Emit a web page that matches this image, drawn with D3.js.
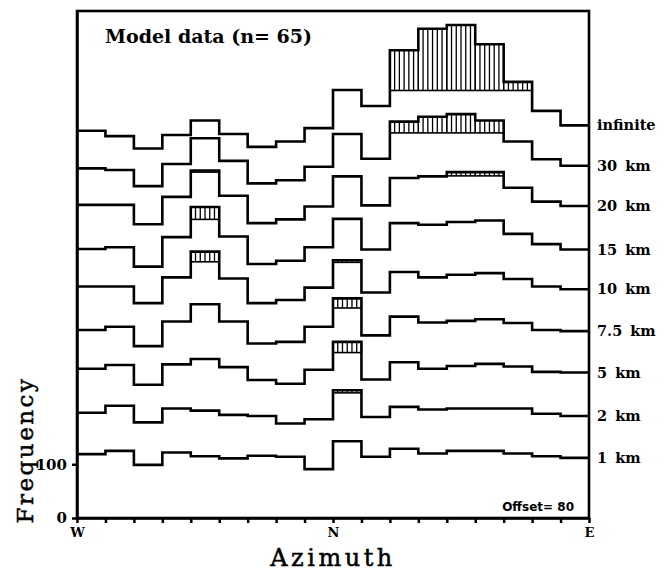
<!DOCTYPE html>
<html>
<head>
<meta charset="utf-8">
<style type="text/css">
body { margin: 0; background: #fff; }
.step { stroke: #000; stroke-width: 2.6; fill: none; }
.hatch { stroke: #000; stroke-width: 1.3; }
.cap { stroke: #000; stroke-width: 1.6; }
.frame { fill: none; stroke: #000; stroke-width: 2.6; }
.axis path, .axis line { stroke: #000; stroke-width: 2.5; }
.axis text { font-family: "DejaVu Serif", serif; font-weight: bold; fill: #000; }
.lbl { font-family: "DejaVu Serif", serif; font-weight: bold; font-size: 14.5px; word-spacing: 3px; }
.title { font-family: "DejaVu Serif", serif; stroke: #000; stroke-width: 0.5; }
</style>
<script src="https://d3js.org/d3.v7.min.js"></script>
</head>
<body>
<script type="text/javascript">
var width  = 669;
var height = 572;

// azimuth bins, 10 degrees each, W (-90) .. N (0) .. E (90)
var binStarts = d3.range(-90, 90, 10);
var tickVals  = d3.range(-90, 91, 10);
var tickNames = {"-90": "W", "0": "N", "90": "E"};
var offset = 80;

// frequency per bin for each depth
var f1km   = [119, 125, 99, 122, 115, 111, 116, 114, 91, 143, 114, 129, 120, 125, 125, 120, 115, 112];
var f2km   = [116, 129, 98, 124, 120, 112, 110, 96, 104, 158, 108, 127, 122, 124, 124, 124, 114, 110];
var f5km   = [118, 125, 88, 126, 136, 121, 97, 90, 116, 168, 98, 130, 118, 123, 127, 122, 112, 111];
var f7_5km = [110, 116, 80, 126, 158, 126, 85, 88, 116, 169, 100, 135, 124, 127, 130, 123, 110, 108];
var f10km  = [111, 111, 80, 128, 176, 126, 80, 86, 109, 160, 100, 138, 128, 133, 136, 125, 111, 106];
var f15km  = [101, 104, 68, 123, 179, 124, 73, 79, 104, 157, 100, 149, 146, 151, 154, 129, 110, 100];
var f20km  = [103, 103, 67, 118, 167, 120, 69, 76, 100, 156, 102, 153, 156, 164, 164, 135, 109, 101];
var f30km  = [91, 88, 58, 99, 147, 105, 63, 69, 94, 155, 109, 178, 187, 192, 180, 141, 108, 96];
var fInf   = [81, 71, 48, 73, 100, 75, 51, 61, 86, 157, 127, 231, 271, 278, 242, 172, 118, 91];

// hatched part: [bin index, lower edge of hatching]
var h1km   = [];
var h2km   = [[9, 153]];
var h5km   = [[9, 148]];
var h7_5km = [[9, 151]];
var h10km  = [[4, 157], [9, 156]];
var h15km  = [[4, 156]];
var h20km  = [[4, 164], [13, 157], [14, 157]];
var h30km  = [[11, 157], [12, 157], [13, 157], [14, 157]];
var hInf   = [[11, 156], [12, 156], [13, 156], [14, 156], [15, 156]];

var names  = ["1 km", "2 km", "5 km", "7.5 km", "10 km", "15 km", "20 km", "30 km", "infinite"];
var freqs  = [f1km, f2km, f5km, f7_5km, f10km, f15km, f20km, f30km, fInf];
var hatchs = [h1km, h2km, h5km, h7_5km, h10km, h15km, h20km, h30km, hInf];

var x = d3.scaleLinear().domain([-90, 90]).range([77, 589]);
var y = d3.scaleLinear().domain([0, 944]).range([518, 11]);

var svg = d3.select("body").append("svg").attr("width", width).attr("height", height);

var line = d3.line()
	.x(function(d){ return x(d[0]); })
	.y(function(d){ return y(d[1]); })
	.curve(d3.curveStepAfter);

freqs.forEach(function(vals, i) {
	var off = offset * i;
	var pts = vals.map(function(v, j){ return [binStarts[j], v + off]; });
	pts.push([90, vals[vals.length - 1] + off]);

	// hatching under the outline
	hatchs[i].forEach(function(h) {
		var b = h[0], lo = h[1] + off, hi = vals[b] + off;
		var x0 = binStarts[b], g = svg.append("g");
		g.append("line").attr("class", "cap")
			.attr("x1", x(x0)).attr("x2", x(x0 + 10))
			.attr("y1", y(lo)).attr("y2", y(lo));
		g.selectAll("line.hatch").data(d3.range(0, 7)).enter().append("line")
			.attr("class", "hatch")
			.attr("x1", function(k){ return x(x0 + 10 * k / 6); })
			.attr("x2", function(k){ return x(x0 + 10 * k / 6); })
			.attr("y1", y(lo)).attr("y2", y(hi));
	});

	svg.append("path").datum(pts).attr("class", "step").attr("d", line);

	svg.append("text").attr("class", "lbl")
		.attr("x", 597)
		.attr("y", y(vals[vals.length - 1] + off))
		.attr("dy", "0.35em")
		.text(names[i]);
});

// frame
svg.append("rect").attr("class", "frame")
	.attr("x", x(-90)).attr("y", y(944))
	.attr("width", x(90) - x(-90)).attr("height", y(0) - y(944));

var xAxis = d3.axisBottom(x).tickValues(tickVals).tickSize(5).tickSizeOuter(0).tickPadding(5)
	.tickFormat(function(d){ return tickNames[d] || ""; });
svg.append("g").attr("class", "axis").attr("transform", "translate(0," + y(0) + ")")
	.call(xAxis).selectAll("text").style("font-size", "13px");

var yAxis = d3.axisLeft(y).tickValues([0, 100]).tickSize(5).tickSizeOuter(0).tickPadding(5);
svg.append("g").attr("class", "axis").attr("transform", "translate(" + x(-90) + ",0)")
	.call(yAxis).selectAll("text").style("font-size", "15px");

svg.append("text")
	.attr("x", 105).attr("y", 43)
	.style("font-family", "DejaVu Serif").style("font-weight", "bold").style("font-size", "19px")
	.text("Model data (n= 65)");

svg.append("text")
	.attr("x", 574).attr("y", 511).attr("text-anchor", "end")
	.style("font-family", "DejaVu Sans").style("font-weight", "bold").style("font-size", "12px")
	.text("Offset= 80");

svg.append("text").attr("class", "title")
	.attr("transform", "translate(33,450) rotate(-90)")
	.attr("text-anchor", "middle")
	.style("font-size", "23px").style("letter-spacing", "2.5px")
	.text("Frequency");

svg.append("text").attr("class", "title")
	.attr("x", 333).attr("y", 566).attr("text-anchor", "middle")
	.style("font-size", "24px").style("letter-spacing", "3.5px")
	.text("Azimuth");
</script>
</body>
</html>
